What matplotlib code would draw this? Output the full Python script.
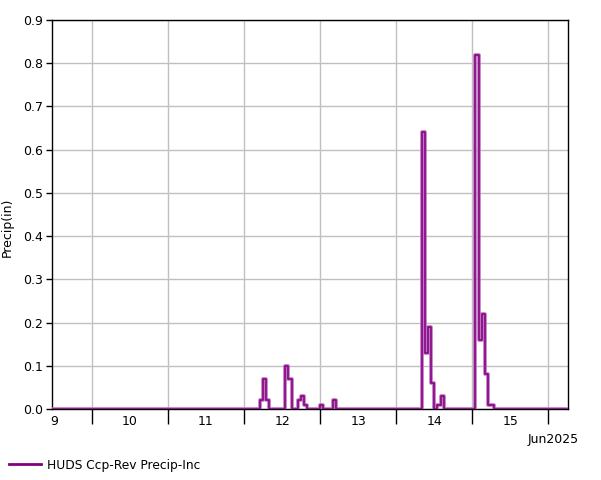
import numpy as np
import pandas as pd
import matplotlib
matplotlib.use('Agg')
import matplotlib.pyplot as plt
import matplotlib.dates as mdates
from matplotlib.lines import Line2D

# hourly precip increments (in); every other hour in the window is 0
series_start = '2025-06-09 11:00'
series_end = '2025-06-16 06:00'
rain_hours = ['2025-06-12 05:00', '2025-06-12 06:00', '2025-06-12 07:00',
              '2025-06-12 13:00', '2025-06-12 14:00',
              '2025-06-12 17:00', '2025-06-12 18:00', '2025-06-12 19:00',
              '2025-06-13 00:00', '2025-06-13 04:00',
              '2025-06-14 08:00', '2025-06-14 09:00', '2025-06-14 10:00',
              '2025-06-14 11:00', '2025-06-14 13:00', '2025-06-14 14:00',
              '2025-06-15 01:00', '2025-06-15 02:00', '2025-06-15 03:00',
              '2025-06-15 04:00', '2025-06-15 05:00', '2025-06-15 06:00']
rain_values = [0.02, 0.07, 0.02,
               0.10, 0.07,
               0.02, 0.03, 0.01,
               0.01, 0.02,
               0.64, 0.13, 0.19,
               0.06, 0.01, 0.03,
               0.82, 0.16, 0.22,
               0.08, 0.01, 0.01]
series_name = 'HUDS Ccp-Rev Precip-Inc'
y_ticks = [0.0, 0.1, 0.2, 0.3, 0.4, 0.5, 0.6, 0.7, 0.8, 0.9]

idx = pd.date_range(series_start, series_end, freq='h')
precip = pd.Series(0.0, index=idx)
precip[pd.to_datetime(rain_hours)] = rain_values

plt.rcParams['font.family'] = ['DejaVu Sans']
fig = plt.figure(figsize=(6.01, 4.8), dpi=100)
ax = fig.add_axes([52 / 601, 71 / 480, 516 / 601, 389 / 480])

purple = '#800080'
ax.plot(precip.index, precip.values, drawstyle='steps-post',
        color='#c070c0', lw=2.6, zorder=3)
ax.plot(precip.index, precip.values, drawstyle='steps-post',
        color=purple, lw=1.1, zorder=4)

ax.set_xlim(pd.Timestamp('2025-06-09 11:24'), pd.Timestamp('2025-06-16 06:12'))
ax.set_ylim(0, 0.9)
ax.set_yticks(y_ticks)
ax.set_yticklabels([f'{v:.1f}' for v in y_ticks])

# day boundaries: long ticks + grid; day labels at noon
ax.xaxis.set_major_locator(mdates.DayLocator())
ax.xaxis.set_major_formatter(plt.NullFormatter())
ax.xaxis.set_minor_locator(mdates.HourLocator(byhour=[12]))
ax.xaxis.set_minor_formatter(mdates.DateFormatter('%-d'))
ax.tick_params(axis='x', which='major', length=11, width=1, color='black')
ax.tick_params(axis='x', which='minor', length=0, pad=4, labelsize=9)
ax.tick_params(axis='y', length=4.5, width=1, pad=2, labelsize=9)

ax.grid(True, which='major', color='#c0c0c0', lw=1)
ax.set_axisbelow(True)
for sp in ax.spines.values():
    sp.set_color('black')
    sp.set_linewidth(1)

fig.text(7 / 601, 1 - 227 / 480, 'Precip(in)', rotation=90, ha='center',
         va='center', fontsize=9)

fig.text(553 / 601, 1 - 440 / 480, 'Jun2025', ha='center', va='center',
         fontsize=9)

handle = Line2D([], [], color=purple, lw=2)
fig.legend([handle], [series_name], loc='center left',
           bbox_to_anchor=(4 / 601, 15 / 480), frameon=False, fontsize=8.8,
           handlelength=2.6, handletextpad=0.55, borderaxespad=0,
           borderpad=0.4)

fig.savefig('out.png', dpi=100)
